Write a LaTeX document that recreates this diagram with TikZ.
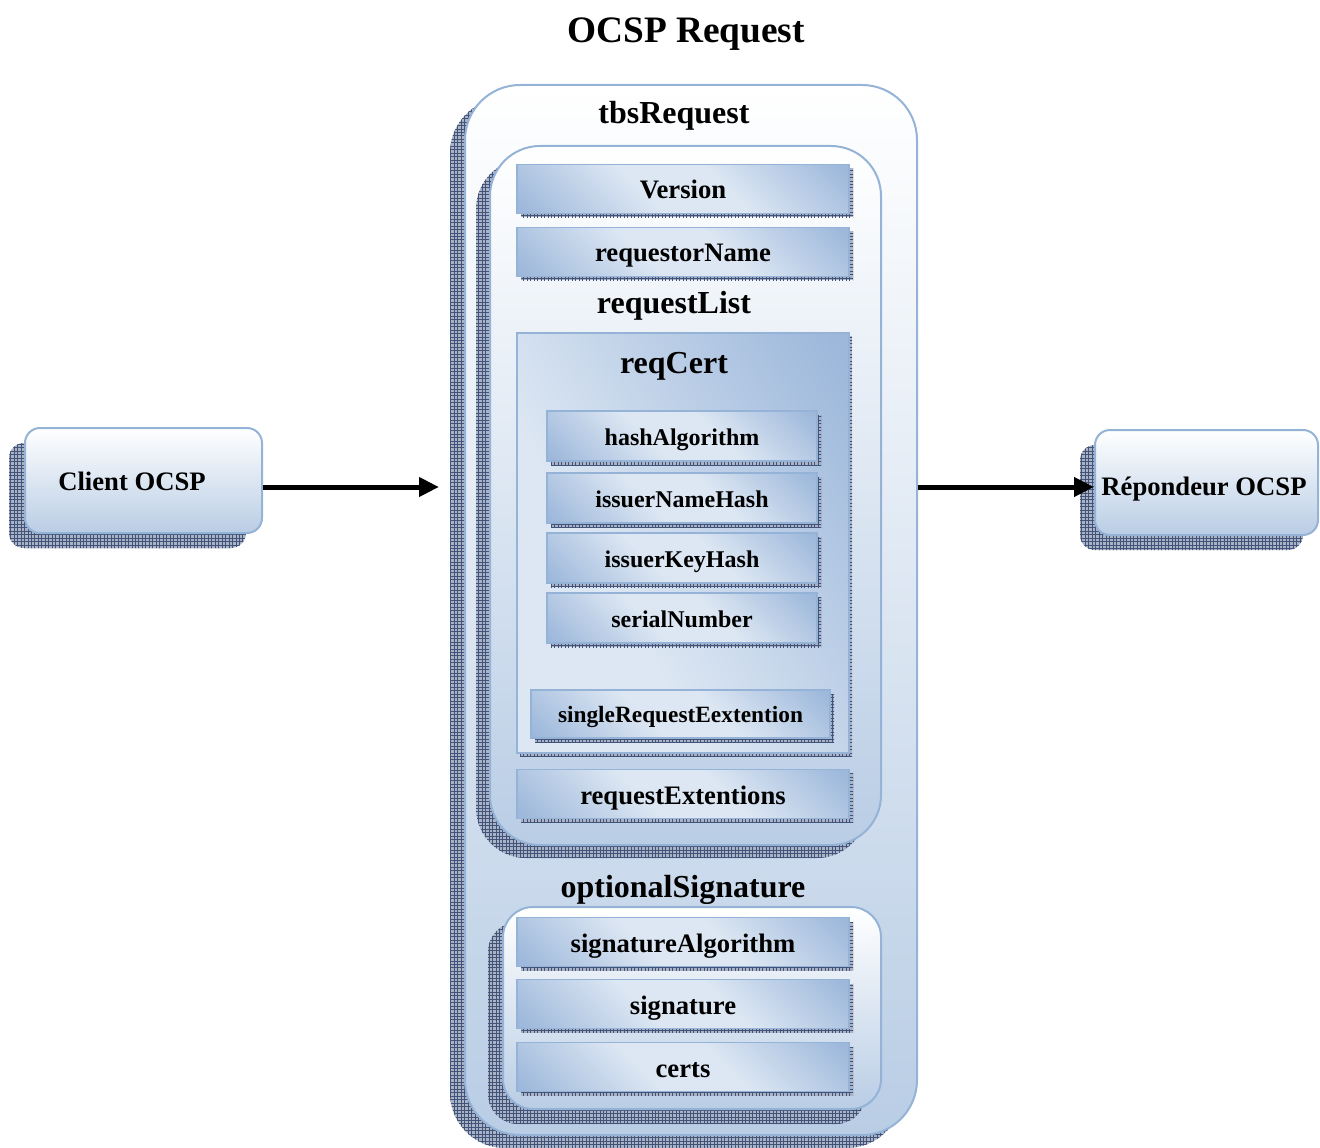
\documentclass[tikz,border=0pt]{standalone}
\usepackage{fontspec}
\setmainfont{Liberation Serif}
\usetikzlibrary{fit,shadows,patterns,arrows.meta}

% palette
\definecolor{edgeblue}{HTML}{95B3D7}
\definecolor{paleblue}{HTML}{B9CDE5}
\definecolor{lightband}{HTML}{DDE7F3}
\definecolor{midblue}{HTML}{9DB8DB}
\definecolor{shadowbase}{HTML}{A9B3C5}
\definecolor{shadowgrid}{HTML}{42537A}

% fine cross-hatch used for the drop shadows
\pgfdeclarepatternformonly{finegrid}{\pgfqpoint{-0.5pt}{-0.5pt}}{\pgfqpoint{3pt}{3pt}}{\pgfqpoint{2.6pt}{2.6pt}}{%
  \pgfsetlinewidth{0.35pt}%
  \pgfpathmoveto{\pgfqpoint{0pt}{0pt}}\pgfpathlineto{\pgfqpoint{0pt}{2.7pt}}%
  \pgfpathmoveto{\pgfqpoint{0pt}{0pt}}\pgfpathlineto{\pgfqpoint{2.7pt}{0pt}}%
  \pgfusepath{stroke}}

% diagonal sheen of the field bars and of the reqCert block
\pgfdeclarehorizontalshading{barshade}{100bp}{color(0bp)=(midblue); color(16bp)=(midblue); color(42bp)=(lightband); color(58bp)=(lightband); color(84bp)=(midblue); color(100bp)=(midblue)}
\pgfdeclarehorizontalshading{certshade}{100bp}{color(0bp)=(lightband); color(38bp)=(lightband); color(82bp)=(midblue); color(100bp)=(midblue)}

\tikzset{
  dropshadow/.style 2 args={
    general shadow={fill=shadowbase, shadow xshift=#1, shadow yshift=#2},
    general shadow={pattern=finegrid, pattern color=shadowgrid, shadow xshift=#1, shadow yshift=#2}},
  panel/.style={draw=edgeblue, line width=1.5pt, top color=white, bottom color=paleblue, inner sep=0pt},
  sized/.style 2 args={minimum width=#1*0.75pt, minimum height=#2*0.75pt},
  bar/.style={draw=edgeblue, line width=1.1pt, shade, shading=barshade, shading angle=45,
    inner sep=0pt, text height=15pt, text depth=0pt,
    font=\bfseries\fontsize{20}{24}\selectfont, dropshadow={3pt}{-3pt}},
  wide/.style={bar, sized={332}{49}},
  subbar/.style={bar, sized={270}{50}, text height=13.5pt, font=\bfseries\fontsize{18}{22}\selectfont},
  heading/.style={anchor=base, inner sep=0pt, font=\bfseries\fontsize{24}{28}\selectfont},
  boxlabel/.style={anchor=base, inner sep=0pt, font=\bfseries\fontsize{20}{24}\selectfont},
  flow/.style={line width=3.75pt, -{Triangle[length=15pt,width=14pt]}},
}

\begin{document}
\begin{tikzpicture}[x=0.75pt,y=-0.75pt]
\useasboundingbox (0,0) rectangle (1320,1148);

\node[heading, font=\bfseries\fontsize{28}{32}\selectfont] (title) at (686,43) {OCSP Request};

% outer tbsRequest container
\node[panel, rounded corners=41.25pt, dropshadow={-11.25pt}{-9.75pt}, fit={(465,85) (917,1135)}] (tbsbox) {};
\node[heading] (tbslabel) at (674,124) {tbsRequest};

% request fields
\node[panel, rounded corners=37.5pt, dropshadow={-10.5pt}{-9.75pt}, fit={(490,146) (881,845)}] (listbox) {};
\node[wide] (version) at (683,189) {Version};
\node[wide] (reqname) at (683,252) {requestorName};
\node[heading] (listlabel) at (674,313) {requestList};

% reqCert block
\node[draw=edgeblue, line width=1.1pt, shade, shading=certshade, shading angle=30, inner sep=0pt,
      dropshadow={2.25pt}{-2.25pt}, fit={(517,333) (849,753)}] (reqcert) {};
\node[heading] (certlabel) at (674,373) {reqCert};
\node[subbar] (hashalg) at (682,436) {hashAlgorithm};
\node[subbar] (namehash) at (682,498) {issuerNameHash};
\node[subbar] (keyhash) at (682,558) {issuerKeyHash};
\node[subbar] (serial) at (682,618) {serialNumber};
\node[subbar, sized={299}{48}, text height=13.2pt, font=\bfseries\fontsize{17.5}{21}\selectfont]
      (singleext) at (680.5,714) {singleRequestEextention};

\node[wide] (reqext) at (683,794) {requestExtentions};

% optional signature
\node[heading] (siglabel) at (683,897) {optionalSignature};
\node[panel, rounded corners=22.5pt, dropshadow={-11.25pt}{-11.25pt}, fit={(503,907) (881,1109)}] (sigbox) {};
\node[wide] (sigalg) at (683,942) {signatureAlgorithm};
\node[wide] (sig) at (683,1004) {signature};
\node[wide] (certs) at (683,1067) {certs};

% end points
\node[panel, rounded corners=11.25pt, dropshadow={-12pt}{-11.25pt}, fit={(25,428) (262,533)}] (client) {};
\node[boxlabel] (clientlabel) at (132,490) {Client OCSP};
\node[panel, rounded corners=11.25pt, dropshadow={-11.25pt}{-11.25pt}, fit={(1095,430) (1318,535)}] (responder) {};
\node[boxlabel] (responderlabel) at (1204,495) {Répondeur OCSP};

% message flow
\coordinate (lane) at (0,487);
\draw[flow, shorten >=18.75pt] (client.east |- lane) -- (tbsbox.west |- lane);
\draw[flow] (tbsbox.east |- lane) -- (responder.west |- lane);
\end{tikzpicture}
\end{document}
